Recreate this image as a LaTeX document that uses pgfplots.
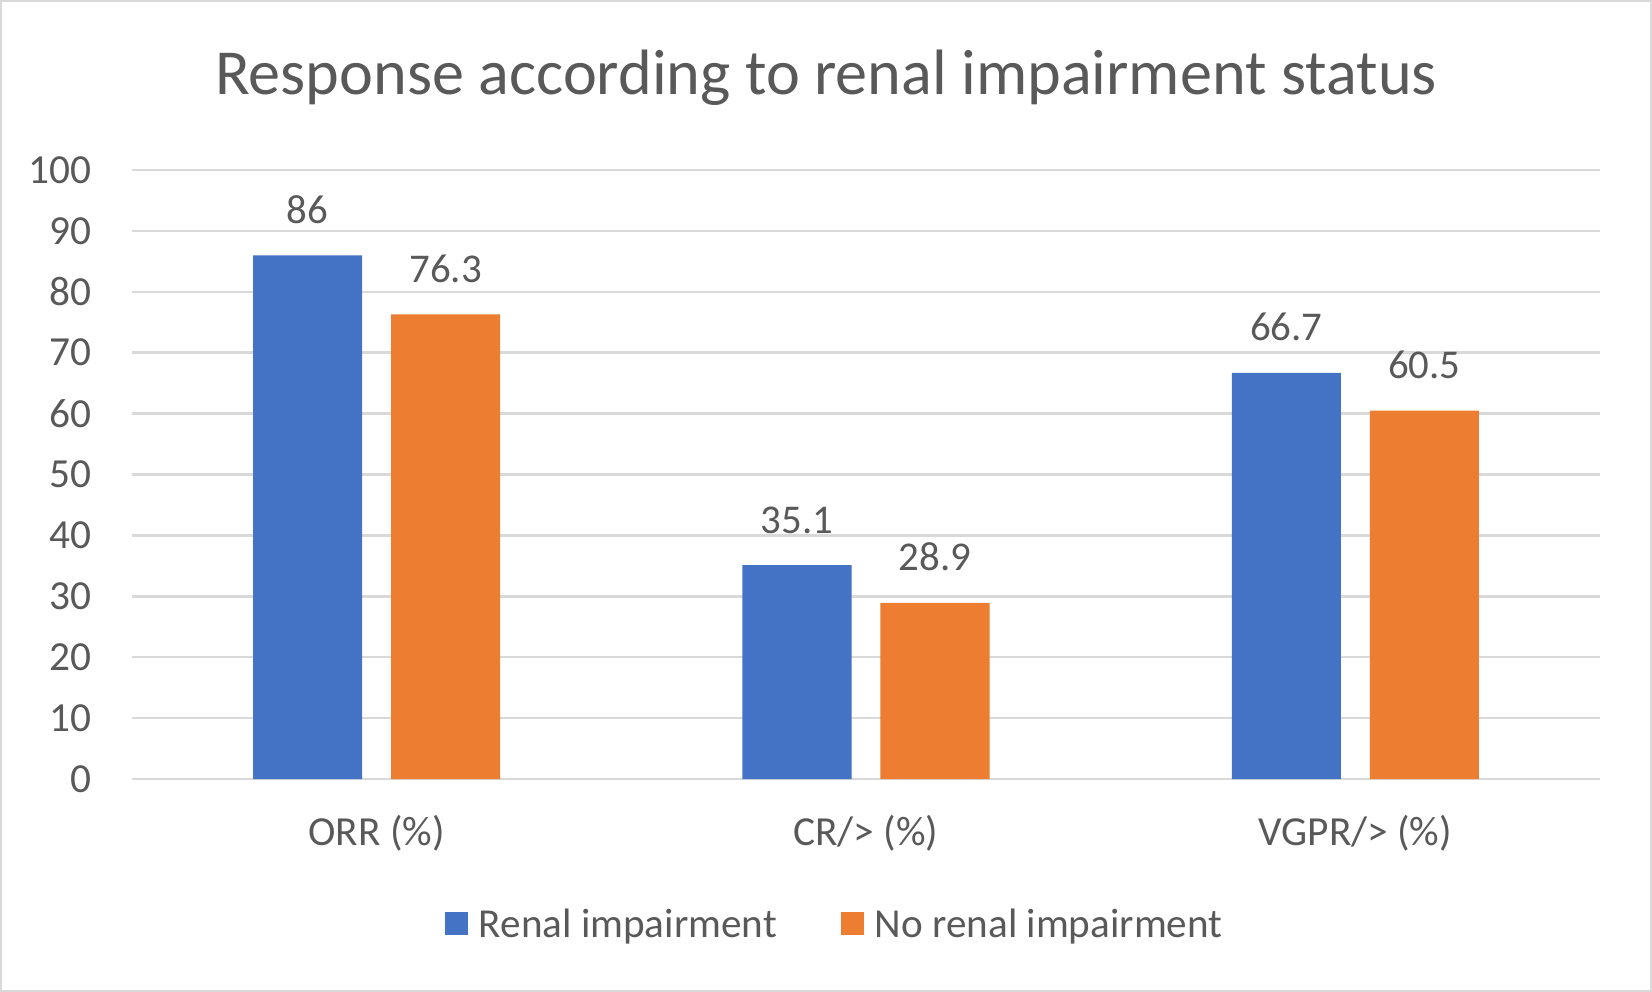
\documentclass[border=0pt]{standalone}
\usepackage{pgfplots}
\pgfplotsset{compat=1.18}
\usepackage{fontspec}
\setmainfont{Carlito}

\definecolor{barblue}{HTML}{4472C4}
\definecolor{barorange}{HTML}{ED7D31}
\definecolor{gridgray}{HTML}{D9D9D9}
\definecolor{txtgray}{HTML}{595959}

\pgfplotstableread{
x  renal  norenal
0  86     76.3
1  35.1   28.9
2  66.7   60.5
}\resp

\begin{document}
\begin{tikzpicture}
\begin{axis}[
  at={(0,0)}, anchor=south west,
  scale only axis,
  width=1468bp, height=609bp,
  xmin=-0.5, xmax=2.5,
  ymin=0, ymax=100,
  ytick={0,10,...,100},
  xtick={0,1,2},
  xticklabels={ORR (\%), CR/> (\%), VGPR/> (\%)},
  major tick length=0,
  axis line style={draw=none},
  ymajorgrids,
  grid style={gridgray, line width=2.4bp},
  /pgf/number format/assume math mode=true,
  yticklabel style={font=\fontsize{41.5}{50}\selectfont, text=txtgray, anchor=east, inner sep=0, xshift=-40bp},
  xticklabel style={font=\fontsize{41.5}{50}\selectfont, text=txtgray, anchor=base, inner sep=0, yshift=-66bp},
  title={Response according to renal impairment status},
  title style={font=\fontsize{64.4}{78}\selectfont, text=txtgray, at={(rel axis cs:0.4728,1)}, anchor=base, inner sep=0, yshift=70bp},
  ybar, bar width=0.223,
  nodes near coords,
  every node near coord/.append style={font=\fontsize{41}{50}\selectfont, text=txtgray, anchor=base, inner sep=0, yshift=32bp},
  legend columns=2,
  legend image code/.code={\fill[#1] (0bp,-11.5bp) rectangle (23bp,11.5bp);},
  legend style={draw=none, fill=none, font=\fontsize{41.3}{50}\selectfont, text=txtgray,
    at={(rel axis cs:0.478,-0.238)}, anchor=center,
    nodes={inner sep=0},
    /tikz/every odd column/.append style={column sep=11bp},
    /tikz/every even column/.append style={column sep=64bp}},
]
\addplot[draw=none, fill=barblue, bar shift=-0.141] table[x=x, y=renal] {\resp};
\addplot[draw=none, fill=barorange, bar shift=0.141] table[x=x, y=norenal] {\resp};
\legend{Renal impairment, No renal impairment}
\end{axis}
\draw[gridgray, line width=2bp] (-131bp,-212bp) rectangle (1519bp,778bp);
\end{tikzpicture}
\end{document}
